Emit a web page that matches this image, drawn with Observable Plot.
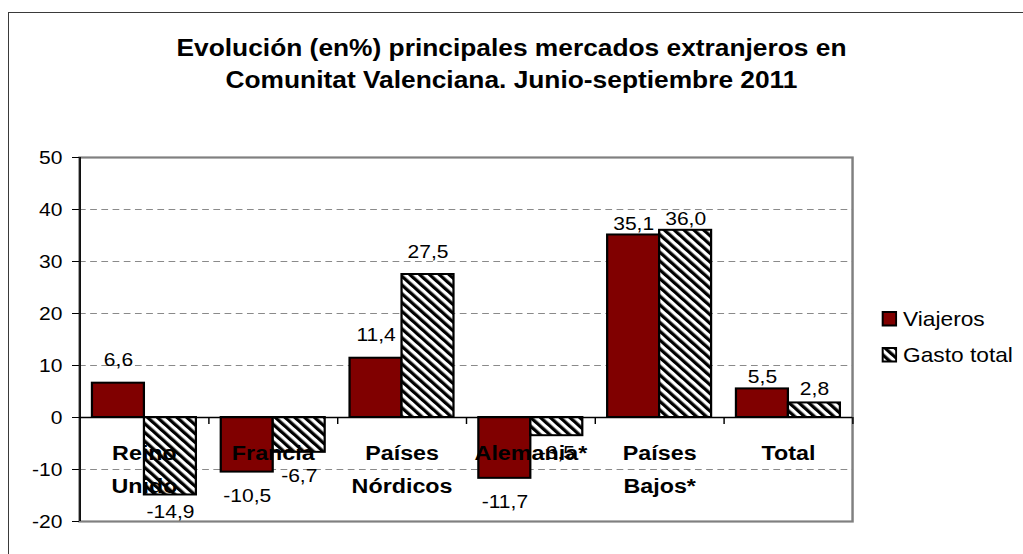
<!DOCTYPE html>
<html>
<head>
<meta charset="utf-8">
<script src="https://cdn.jsdelivr.net/npm/d3@7"></script>
<script src="https://cdn.jsdelivr.net/npm/@observablehq/plot@0.6"></script>
<style>
html, body { margin: 0; padding: 0; background: #fff; width: 1023px; height: 554px; overflow: hidden; }
#border { position: absolute; left: 8px; top: 12px; width: 1100px; height: 700px; border-left: 1.6px solid #3a3a3a; border-top: 1.6px solid #3a3a3a; }
#stretch { position: absolute; left: 0; top: 0; width: 913.4px; height: 554px; transform: scaleX(1.12); transform-origin: 0 0; font-family: "Liberation Sans", Arial, sans-serif; color: #000; }
#title { position: absolute; left: 0; top: 32px; width: 913.4px; text-align: center; font-weight: bold; font-size: 23.5px; line-height: 32px; }
#chart { position: absolute; left: 0; top: 130px; }
#legend { position: absolute; left: 786.6px; top: 301px; font-size: 20.3px; }
.item { display: flex; align-items: center; height: 36px; white-space: nowrap; }
.sw { width: 14.3px; height: 15.5px; margin-right: 5.4px; display: block; }
</style>
</head>
<body>
<div id="border"></div>
<div id="stretch">
  <svg width="0" height="0" style="position:absolute">
    <defs>
      <pattern id="hatch" patternUnits="userSpaceOnUse" width="6.2" height="6.2" patternTransform="rotate(-45)">
        <rect width="6.2" height="6.2" fill="white"></rect>
        <rect width="3.1" height="6.2" fill="black"></rect>
      </pattern>
    </defs>
  </svg>
  <div id="title">Evolución (en%) principales mercados extranjeros en<br>Comunitat Valenciana. Junio-septiembre 2011</div>
  <div id="chart"></div>
  <div id="legend"></div>
</div>
<script>
// ---- data ----
const categories = ["Reino Unido", "Francia", "Países Nórdicos", "Alemania*", "Países Bajos*", "Total"];
const categoryLabels = ["Reino\nUnido", "Francia", "Países\nNórdicos", "Alemania*", "Países\nBajos*", "Total"];
const series = ["Viajeros", "Gasto total"];
const viajeros = [6.6, -10.5, 11.4, -11.7, 35.1, 5.5];
const gastoTotal = [-14.9, -6.7, 27.5, -3.5, 36.0, 2.8];
const yTicks = [-20, -10, 0, 10, 20, 30, 40, 50];
const gridValues = [-10, 10, 20, 30, 40];

const rows = categories.flatMap((c, i) => [
  {cat: c, series: series[0], value: viajeros[i]},
  {cat: c, series: series[1], value: gastoTotal[i]}
]);
const fmt = v => v.toFixed(1).replace(".", ",");

// label offset (style): distance of label centre from bar end, px
function labelOffset(d) {
  if (d.value >= 0) {
    if (d.cat === "Países Bajos*") return -11;
    if (d.cat === "Total") return d.series === series[0] ? -12 : -14;
    return -23;
  }
  if (d.value < -14 || (d.cat === "Alemania*" && d.series === series[1])) return 17.5;
  return 23.5;
}

const band = 115.03, outer = 11.1, half = band / 2, barW = (band - 2 * outer) / 2;

const labelMarks = [];
const groups = d3.group(rows, labelOffset);
for (const [off, arr] of groups) {
  for (const s of series) {
    const sub = arr.filter(d => d.series === s);
    if (!sub.length) continue;
    labelMarks.push(Plot.text(sub, {
      x: "cat", y: "value", text: d => fmt(d.value),
      dx: s === series[0] ? -barW / 2 : barW / 2, dy: off,
      fontSize: 18.8, fill: "black"
    }));
  }
}

const chart = Plot.plot({
  width: 780, height: 420,
  marginLeft: 70.5, marginRight: 19.3, marginTop: 27, marginBottom: 29,
  style: {fontFamily: "'Liberation Sans', Arial, sans-serif", fontSize: "18.5px", color: "black", background: "transparent", overflow: "visible"},
  x: {domain: categories, type: "band", padding: 0, axis: null},
  y: {domain: [-20, 50]},
  marks: [
    Plot.ruleY(gridValues, {stroke: "#8a8a8a", strokeWidth: 1.2, strokeDasharray: "6,4"}),
    Plot.frame({stroke: "#808080", strokeWidth: 2.2}),
    Plot.barY(rows.filter(d => d.series === series[0]), {x: "cat", y: "value", fill: "#800000", stroke: "black", strokeWidth: 2, insetLeft: outer, insetRight: half}),
    Plot.barY(rows.filter(d => d.series === series[1]), {x: "cat", y: "value", fill: "url(#hatch)", stroke: "black", strokeWidth: 2, insetLeft: half, insetRight: outer}),
    Plot.ruleY([0], {stroke: "black", strokeWidth: 1.5}),
    Plot.ruleX([categories[0]], {x: d => d, dx: -half, stroke: "black", strokeWidth: 1.5}),
    Plot.ruleX(categories, {x: d => d, y1: () => 0, y2: () => 0, dx: half, insetBottom: -7, stroke: "black", strokeWidth: 1.3}),
    Plot.axisY(yTicks, {tickSize: 6.2, tickPadding: 9, tickFormat: d => String(d), fontSize: 18.8, stroke: "black", fill: "black", label: null}),
    ...labelMarks,
    Plot.text(categories, {x: d => d, y: () => 0, text: (d, i) => categoryLabels[i], lineAnchor: "top", lineHeight: 1.56, dy: 19.8, fontWeight: "bold", fontSize: 20.8, fill: "black"})
  ]
});
document.getElementById("chart").appendChild(chart);

// legend
const legend = document.getElementById("legend");
legend.innerHTML =
  `<div class="item"><svg class="sw" viewBox="0 0 14.3 15.5"><rect x="1" y="1" width="12.3" height="13.5" fill="#800000" stroke="black" stroke-width="2"/></svg><span>${series[0]}</span></div>` +
  `<div class="item"><svg class="sw" viewBox="0 0 14.3 15.5"><rect x="1" y="1" width="12.3" height="13.5" fill="url(#hatch)" stroke="black" stroke-width="2"/></svg><span>${series[1]}</span></div>`;
</script>
</body>
</html>
